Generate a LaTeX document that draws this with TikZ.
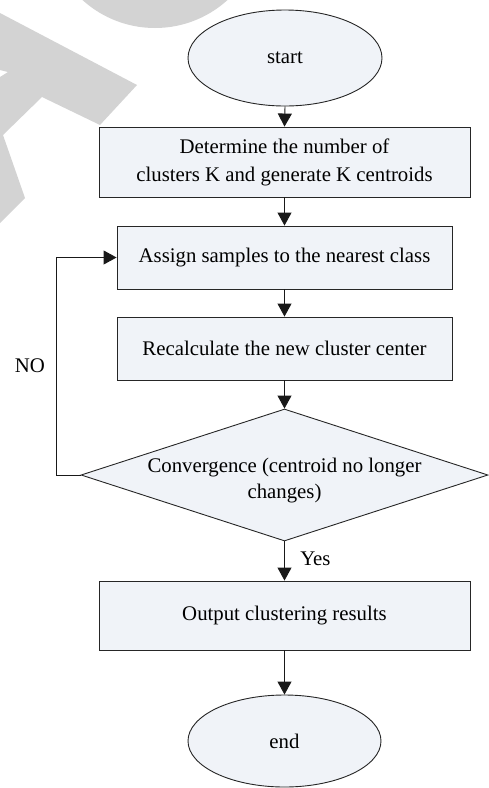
\documentclass[tikz,border=0pt]{standalone}
\usepackage{fontspec}
\setmainfont{Liberation Serif}
\usetikzlibrary{shapes.geometric,arrows.meta}
\definecolor{boxfill}{RGB}{240,243,248}
\definecolor{wmgray}{RGB}{211,211,211}
\begin{document}
\begin{tikzpicture}[x=1pt,y=-1pt,
  every node/.style={font=\fontsize{20.8}{28}\selectfont},
  base/.style={draw=black!85,line width=0.9pt,fill=boxfill,inner sep=0pt},
  procbox/.style={base,rectangle,align=center},
  terminal/.style={base,ellipse},
  decision/.style={base,diamond,minimum width=407pt,minimum height=132pt},
  flow/.style={line width=0.9pt,draw=black!90,-{Triangle[length=13pt,width=14pt]}}]
\useasboundingbox (0,0) rectangle (488,788);

% faint background marks
\begin{scope}
  \clip (0,0) rectangle (488,788);
  \fill[wmgray] (155,-80) circle (108);
  \fill[wmgray] (0,13) -- (137,85) -- (100,125) -- (42,97) -- (3,135)
    -- (25,198) -- (0,223) -- (0,77) -- (8,72) -- (0,70) -- cycle;
\end{scope}

% nodes
\node[terminal,minimum width=194pt,minimum height=96pt] (start) at (285,58) {start};
\node[procbox,minimum width=371pt,minimum height=70pt] (init) at (284.5,162)
  {Determine the number of\\clusters K and generate K centroids};
\node[procbox,minimum width=335pt,minimum height=63pt] (assign) at (284.5,257.5)
  {Assign samples to the nearest class};
\node[procbox,minimum width=335pt,minimum height=63pt] (recalc) at (284.5,348.5)
  {Recalculate the new cluster center};
\node[decision,label={[align=center,yshift=-6pt,font=\fontsize{20.8}{26}\selectfont]center:Convergence (centroid no longer\\changes)}] (conv) at (284.5,475) {};
\node[procbox,minimum width=371pt,minimum height=69pt] (out) at (284.5,615.5)
  {Output clustering results};
\node[terminal,minimum width=193pt,minimum height=92pt] (end) at (284.5,741) {end};

\coordinate (loopbot) at (56,475);
\coordinate (looptop) at (56,257.5);

% connectors
\draw[flow] (start.south) -- (init.north);
\draw[flow] (init.south) -- (assign.north);
\draw[flow] (assign.south) -- (recalc.north);
\draw[flow] (recalc.south) -- (conv.north);
\draw[flow] (conv.south) -- node[right,xshift=12pt,yshift=2pt]{Yes} (out.north);
\draw[flow] (out.south) -- (end.north);
\draw[flow] (conv.west) -- (loopbot) -- (looptop) -- (assign.west);

\node (no) at (30,366) {NO};
\end{tikzpicture}
\end{document}
